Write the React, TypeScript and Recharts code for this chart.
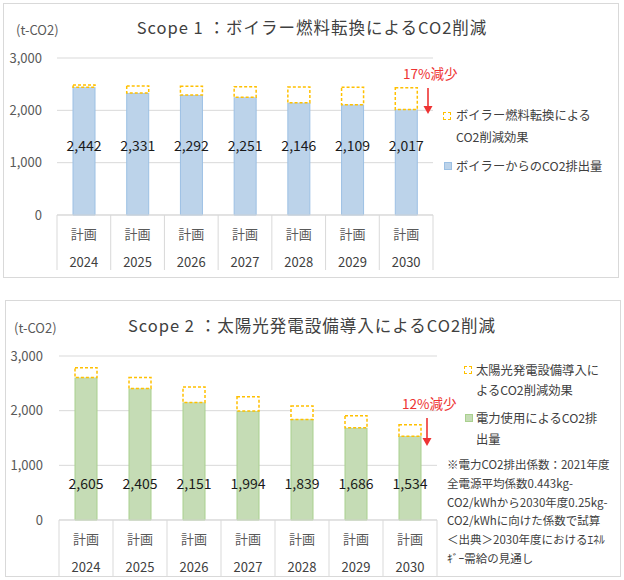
import React from 'react';
import { BarChart, Bar, XAxis, YAxis, CartesianGrid, LabelList } from 'recharts';

// ---------- data ----------
const years = ['2024', '2025', '2026', '2027', '2028', '2029', '2030'];
const planLabel = '計画';
const yTicks = [0, 1000, 2000, 3000];
const unitLabel = '(t-CO2)';

const scope1Emission = [2442, 2331, 2292, 2251, 2146, 2109, 2017];
const scope1Reduction = [42, 134, 168, 201, 300, 331, 413];
const scope1Title = 'Scope 1 ：ボイラー燃料転換によるCO2削減';
const scope1ReductionLegend = ['ボイラー燃料転換による', 'CO2削減効果'];
const scope1EmissionLegend = ['ボイラーからのCO2排出量'];
const scope1Callout = '17%減少';

const scope2Emission = [2605, 2405, 2151, 1994, 1839, 1686, 1534];
const scope2Reduction = [181, 200, 282, 261, 246, 222, 209];
const scope2Title = 'Scope 2 ：太陽光発電設備導入によるCO2削減';
const scope2ReductionLegend = ['太陽光発電設備導入に', 'よるCO2削減効果'];
const scope2EmissionLegend = ['電力使用によるCO2排', '出量'];
const scope2Callout = '12%減少';
const scope2Footnote = [
  '※電力CO2排出係数：2021年度',
  '全電源平均係数0.443kg-',
  'CO2/kWhから2030年度0.25kg-',
  'CO2/kWhに向けた係数で試算',
  '＜出典＞2030年度におけるｴﾈﾙ',
  'ｷﾞｰ需給の見通し',
];

const buildRows = (emission: number[], reduction: number[]) =>
  years.map((year, i) => ({ year, emission: emission[i], reduction: reduction[i] }));

const scope1Data = buildRows(scope1Emission, scope1Reduction);
const scope2Data = buildRows(scope2Emission, scope2Reduction);

// ---------- styles ----------
const FONT = '"Noto Sans CJK JP", "Noto Sans", sans-serif';
const GRID = '#d9d9d9';
const YELLOW = '#ffc000';
const RED = '#ee3333';

const fmt = (v: number) => v.toLocaleString('en-US');

function makeTick(bandWidth: number, lineLen: number) {
  return (props: any) => {
    const { x, y, payload, index } = props;
    const last = index === years.length - 1;
    return (
      <g>
        <line x1={x - bandWidth / 2} x2={x - bandWidth / 2} y1={y} y2={y + lineLen} stroke={GRID} />
        {last && <line x1={x + bandWidth / 2} x2={x + bandWidth / 2} y1={y} y2={y + lineLen} stroke={GRID} />}
        <text x={x} y={y + 18} textAnchor="middle" dominantBaseline="central" fill="#595959" fontSize={13} fontFamily={FONT}>
          {planLabel}
        </text>
        <text x={x} y={y + 46} textAnchor="middle" dominantBaseline="central" fill="#404040" fontSize={13} fontFamily={FONT}>
          {payload.value}
        </text>
      </g>
    );
  };
}

function makeLabel(aboveBottom: number) {
  return (props: any) => {
    const vb = props.viewBox && props.viewBox.x !== undefined ? props.viewBox : props;
    const { x, y, width, height } = vb;
    const bottom = y + Math.max(height, 0);
    return (
      <text x={x + width / 2} y={bottom - aboveBottom} textAnchor="middle" dominantBaseline="central" fill="#1a1a1a" fontSize={14} fontFamily={FONT}>
        {fmt(Number(props.value))}
      </text>
    );
  };
}

type PanelProps = {
  data: any[];
  chartTop: number;
  chartHeight: number;
  margin: { top: number; right: number; bottom: number; left: number };
  tickMargin: number;
  lineLen: number;
  labelAbove: number;
  fill: string;
  stroke: string;
};

function Panel({ data, chartTop, chartHeight, margin, tickMargin, lineLen, labelAbove, fill, stroke }: PanelProps) {
  const yAxisWidth = 50;
  const plotWidth = 624 - margin.left - yAxisWidth - margin.right;
  const bw = plotWidth / years.length;
  return (
    <div style={{ position: 'absolute', left: 0, top: chartTop }}>
      <BarChart width={624} height={chartHeight} data={data} margin={margin}>
        <CartesianGrid vertical={false} stroke={GRID} />
        <XAxis
          dataKey="year"
          interval={0}
          height={55}
          tickLine={false}
          tickSize={0}
          tickMargin={0}
          axisLine={{ stroke: GRID }}
          tick={makeTick(bw, lineLen)}
        />
        <YAxis
          width={yAxisWidth}
          domain={[0, 3000]}
          ticks={yTicks}
          axisLine={false}
          tickLine={false}
          tickMargin={tickMargin}
          tickFormatter={fmt}
          tick={{ fill: '#595959', fontSize: 13, fontFamily: FONT }}
        />
        <Bar dataKey="emission" stackId="s" fill={fill} stroke={stroke} strokeWidth={1} barSize={22} isAnimationActive={false}>
          <LabelList dataKey="emission" content={makeLabel(labelAbove)} />
        </Bar>
        <Bar
          dataKey="reduction"
          stackId="s"
          fill="#ffffff"
          stroke={YELLOW}
          strokeWidth={1.5}
          strokeDasharray="3 2"
          barSize={22}
          isAnimationActive={false}
        />
      </BarChart>
    </div>
  );
}

const abs = (left: number, top: number, extra: React.CSSProperties = {}): React.CSSProperties => ({
  position: 'absolute',
  left,
  top,
  ...extra,
});

function LegendLines({ left, top, lines, lineH, fontSize }: { left: number; top: number; lines: string[]; lineH: number; fontSize: number }) {
  return (
    <div style={abs(left, top, { fontSize, lineHeight: `${lineH}px`, color: '#404040', whiteSpace: 'nowrap' })}>
      {lines.map((l, i) => (
        <div key={i}>{l}</div>
      ))}
    </div>
  );
}

function Arrow({ x, y1, y2 }: { x: number; y1: number; y2: number }) {
  return (
    <svg style={abs(x - 6, y1)} width={12} height={y2 - y1 + 1}>
      <line x1={6} x2={6} y1={0} y2={y2 - y1 - 6} stroke={RED} strokeWidth={1.6} />
      <polygon points={`1.5,${y2 - y1 - 8} 10.5,${y2 - y1 - 8} 6,${y2 - y1}`} fill={RED} />
    </svg>
  );
}

export default function App() {
  return (
    <div style={{ position: 'absolute', left: 0, top: 0, width: 624, height: 580, background: '#fff', fontFamily: FONT, overflow: 'hidden' }}>
      {/* frames */}
      <div style={abs(3, 3, { width: 614, height: 273, border: `1px solid ${GRID}` })} />
      <div style={abs(5, 300, { width: 614, height: 275, border: `1px solid ${GRID}` })} />

      {/* Scope 1 */}
      <Panel
        data={scope1Data}
        chartTop={0}
        chartHeight={280}
        margin={{ top: 58, right: 191, bottom: 10, left: 7 }}
        tickMargin={9}
        lineLen={55}
        labelAbove={70.5}
        fill="#bcd3ea"
        stroke="#9cc0e4"
      />
      <div style={abs(0, 14, { width: 624, textAlign: 'center', fontSize: 16.5, letterSpacing: 1, color: '#404040', lineHeight: '26px' })}>
        {scope1Title}
      </div>
      <div style={abs(16, 21, { fontSize: 13, color: '#595959', lineHeight: '18px' })}>{unitLabel}</div>
      <div style={abs(403, 64, { fontSize: 13.5, color: RED, lineHeight: '18px' })}>{scope1Callout}</div>
      <Arrow x={428} y1={88} y2={114} />
      <div style={abs(443, 112, { width: 8, height: 8, border: `1.3px dashed ${YELLOW}`, boxSizing: 'border-box' })} />
      <LegendLines left={456} top={104} lines={scope1ReductionLegend} lineH={22} fontSize={12.3} />
      <div style={abs(444, 162, { width: 8, height: 8, background: '#bcd3ea', border: '1px solid #9cc0e4', boxSizing: 'border-box' })} />
      <LegendLines left={456} top={155} lines={scope1EmissionLegend} lineH={22} fontSize={12.3} />

      {/* Scope 2 */}
      <Panel
        data={scope2Data}
        chartTop={290}
        chartHeight={290}
        margin={{ top: 66, right: 187, bottom: 5, left: 9 }}
        tickMargin={10}
        lineLen={56}
        labelAbove={37.5}
        fill="#c5dcb5"
        stroke="#a9d08e"
      />
      <div style={abs(0, 312, { width: 624, textAlign: 'center', fontSize: 16.5, letterSpacing: 1, color: '#404040', lineHeight: '26px' })}>
        {scope2Title}
      </div>
      <div style={abs(14, 319, { fontSize: 13, color: '#595959', lineHeight: '18px' })}>{unitLabel}</div>
      <div style={abs(402, 394, { fontSize: 13.5, color: RED, lineHeight: '18px' })}>{scope2Callout}</div>
      <Arrow x={427} y1={418} y2={446} />
      <div style={abs(464, 366, { width: 8, height: 8, border: `1.3px dashed ${YELLOW}`, boxSizing: 'border-box' })} />
      <LegendLines left={476} top={360} lines={scope2ReductionLegend} lineH={20} fontSize={12.3} />
      <div style={abs(465, 414, { width: 8, height: 8, background: '#c5dcb5', border: '1px solid #a9d08e', boxSizing: 'border-box' })} />
      <LegendLines left={476} top={408} lines={scope2EmissionLegend} lineH={21} fontSize={12.3} />
      <LegendLines left={447} top={455} lines={scope2Footnote} lineH={18.8} fontSize={11.5} />
    </div>
  );
}
